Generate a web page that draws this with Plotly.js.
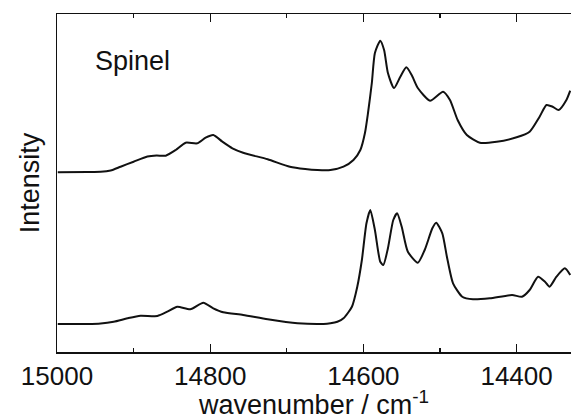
<!DOCTYPE html>
<html>
<head>
<meta charset="utf-8">
<script src="https://cdn.plot.ly/plotly-3.0.1.min.js"></script>
<style>html,body{margin:0;padding:0;background:#fff;}#chart{width:571px;height:420px;}</style>
</head>
<body>
<div id="chart"></div>
<script>
// Upper spectrum (offset), wavenumber in cm^-1, intensity in arbitrary units
const upperWavenumber = [14999,14960,14943,14930,14917,14900,14882,14870,14858,14845,14832,14817,14806,14796,14784,14771,14757,14725,14696,14676,14660,14643,14626,14613,14604,14598,14594,14589,14585,14578,14573,14568,14560,14552,14544,14537,14529,14513,14496,14487,14477,14465,14448,14426,14400,14383,14370,14361,14353,14345,14335,14330];
const upperIntensity  = [179.7,180,180.2,181.5,185.3,190.3,195.5,196.5,196.3,202,209.3,208.7,214.3,217,210.3,203.7,199.3,192.7,185.3,183,182,182,185.3,192,202,219,239,269,299,311.3,302,279,264,275,284.7,277,264,251.3,260.3,252,232,217,209.3,210.3,214.7,220.3,235.3,247,245.3,242,252,261.3];

// Lower spectrum
const lowerWavenumber = [14999,14960,14943,14926,14908,14891,14869,14856,14843,14826,14809,14796,14783,14757,14725,14686,14652,14643,14634,14626,14615,14608,14602,14596,14591,14585,14578,14574,14568,14561,14556,14550,14542,14529,14520,14510,14505,14497,14491,14483,14471,14457,14435,14406,14393,14383,14372,14363,14357,14348,14337,14330];
const lowerIntensity  = [28,28,28.5,30.3,33.7,36.3,36,40.3,45.3,42.7,49.3,43.7,39.7,37,32.7,28.7,28,28.7,30.3,33.7,45.3,65.3,92,128.7,142,122,90.3,87,103.7,132,138.7,125.3,100.3,89.3,102,123.7,129.3,118.7,95.3,68.7,55.3,52.7,53.7,57,55.3,62,75.3,70.3,65.3,75.3,83.7,77];

const xRange = [15000, 14329];
const yRange = [0, 338];
const xTickVals = [15000, 14800, 14600, 14400];
const xTickText = ["15000", "14800", "14600", "14400"];

const FONT = "Liberation Sans, Arial, sans-serif";
const lineStyle = {color: "#111", width: 2, shape: "spline", smoothing: 0.6};

const traces = [
  {x: upperWavenumber, y: upperIntensity, type: "scatter", mode: "lines", line: lineStyle, hoverinfo: "skip", showlegend: false},
  {x: lowerWavenumber, y: lowerIntensity, type: "scatter", mode: "lines", line: lineStyle, hoverinfo: "skip", showlegend: false}
];

const layout = {
  width: 571, height: 420,
  margin: {l: 57, r: 0, t: 14, b: 68},
  paper_bgcolor: "#fff", plot_bgcolor: "#fff",
  font: {family: FONT, color: "#111", size: 26},
  xaxis: {
    range: xRange, autorange: false,
    tickmode: "array", tickvals: xTickVals, ticktext: xTickText,
    ticks: "inside", ticklen: 8, tickwidth: 1.3, tickcolor: "#111",
    minor: {dtick: 100, tick0: 0, ticks: "inside", ticklen: 4, tickwidth: 1.3, tickcolor: "#111", showgrid: false},
    showline: true, linecolor: "#111", linewidth: 1.5, mirror: "ticks",
    showgrid: false, zeroline: false,
    tickfont: {family: FONT, size: 26, color: "#111"},
    title: {text: "wavenumber / cm<sup>-1</sup>", font: {family: FONT, size: 27, color: "#111"}, standoff: 6}
  },
  yaxis: {
    range: yRange, autorange: false,
    showticklabels: false, ticks: "",
    showline: true, linecolor: "#111", linewidth: 1.5, mirror: false,
    showgrid: false, zeroline: false,
    title: {text: "Intensity", font: {family: FONT, size: 27, color: "#111"}, standoff: 8}
  },
  annotations: [
    {text: "Spinel", xref: "paper", yref: "paper", x: 0.07, y: 0.86, xanchor: "left", yanchor: "middle", showarrow: false, font: {family: FONT, size: 27, color: "#111"}}
  ]
};

Plotly.newPlot("chart", traces, layout, {staticPlot: true, displayModeBar: false});
</script>
</body>
</html>
